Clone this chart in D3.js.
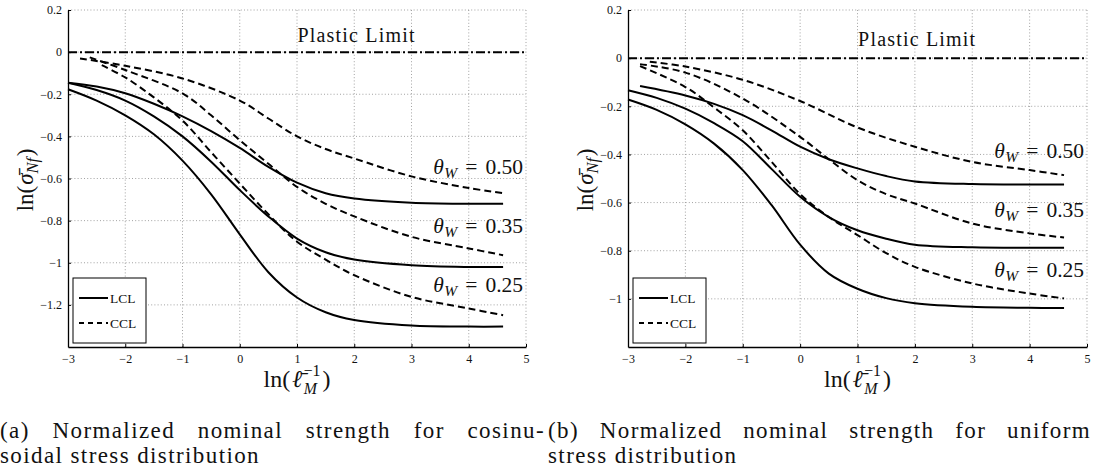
<!doctype html>
<html lang="en">
<head>
<meta charset="utf-8">
<title>Normalized nominal strength</title>
<script src="https://cdnjs.cloudflare.com/ajax/libs/d3/7.8.5/d3.min.js"></script>
<style>
  body { margin: 0; background: #fff; }
  svg text { font-family: "Liberation Serif", "Times New Roman", serif; fill: #111; }
</style>
</head>
<body>
<svg id="svg" width="1093" height="470"></svg>
<script>
// ---- data ----
var xTicks = [-3, -2, -1, 0, 1, 2, 3, 4, 5];
var yTicksA = [0.2, 0, -0.2, -0.4, -0.6, -0.8, -1, -1.2, -1.4];
var yTicksB = [0.2, 0, -0.2, -0.4, -0.6, -0.8, -1, -1.2];
var thetaLabels = ['0.50', '0.35', '0.25'];
var legendLabels = ['LCL', 'CCL'];

// (a) cosinusoidal stress distribution
var lclA50 = [[-3,-0.145],[-2.5,-0.163],[-2,-0.195],[-1.5,-0.245],[-1,-0.305],[-0.5,-0.375],[0,-0.455],[0.5,-0.545],[1,-0.62],[1.5,-0.67],[2,-0.695],[3,-0.715],[4,-0.72],[4.6,-0.72]];
var lclA35 = [[-3,-0.145],[-2.5,-0.18],[-2,-0.23],[-1.5,-0.305],[-1,-0.40],[-0.5,-0.52],[0,-0.655],[0.5,-0.78],[1,-0.885],[1.5,-0.95],[2,-0.985],[3,-1.012],[4,-1.02],[4.6,-1.02]];
var lclA25 = [[-3,-0.176],[-2.5,-0.23],[-2,-0.30],[-1.5,-0.39],[-1,-0.515],[-0.5,-0.675],[0,-0.865],[0.5,-1.045],[1,-1.165],[1.5,-1.235],[2,-1.272],[3,-1.298],[4,-1.303],[4.6,-1.303]];
var cclA50 = [[-2.79,-0.03],[-2,-0.065],[-1,-0.125],[0,-0.23],[0.5,-0.315],[1,-0.40],[1.5,-0.46],[2,-0.505],[3,-0.59],[4,-0.645],[4.6,-0.67]];
var cclA35 = [[-2.62,-0.025],[-2,-0.085],[-1,-0.196],[-0.5,-0.30],[0,-0.418],[0.5,-0.53],[1,-0.64],[1.5,-0.72],[2,-0.78],[3,-0.877],[4,-0.932],[4.6,-0.964]];
var cclA25 = [[-2.41,-0.062],[-2,-0.12],[-1.5,-0.215],[-1,-0.325],[-0.5,-0.475],[0,-0.624],[0.5,-0.77],[1,-0.90],[1.5,-0.985],[2,-1.059],[3,-1.162],[4,-1.217],[4.6,-1.249]];

// (b) uniform stress distribution
var lclB50 = [[-2.79,-0.116],[-2,-0.155],[-1.5,-0.19],[-1,-0.237],[-0.5,-0.30],[0,-0.368],[0.5,-0.42],[1,-0.458],[1.5,-0.49],[2,-0.512],[3,-0.523],[4,-0.525],[4.6,-0.525]];
var lclB35 = [[-3,-0.133],[-2.5,-0.165],[-2,-0.21],[-1.5,-0.27],[-1,-0.345],[-0.5,-0.46],[0,-0.576],[0.5,-0.66],[1,-0.715],[1.5,-0.75],[2,-0.775],[3,-0.786],[4,-0.788],[4.6,-0.788]];
var lclB25 = [[-3,-0.172],[-2.5,-0.215],[-2,-0.275],[-1.5,-0.355],[-1,-0.465],[-0.5,-0.61],[0,-0.775],[0.5,-0.895],[1,-0.958],[1.5,-0.997],[2,-1.018],[3,-1.033],[4,-1.037],[4.6,-1.038]];
var cclB50 = [[-2.62,-0.015],[-2,-0.035],[-1,-0.09],[0,-0.178],[1,-0.288],[2,-0.368],[3,-0.431],[4,-0.465],[4.6,-0.486]];
var cclB35 = [[-2.79,-0.025],[-2,-0.06],[-1,-0.168],[0,-0.327],[0.5,-0.42],[1,-0.507],[1.5,-0.565],[2,-0.604],[3,-0.687],[4,-0.728],[4.6,-0.745]];
var cclB25 = [[-2.79,-0.033],[-2,-0.12],[-1.5,-0.205],[-1,-0.30],[-0.5,-0.43],[0,-0.565],[0.5,-0.66],[1,-0.735],[1.5,-0.81],[2,-0.867],[3,-0.936],[4,-0.978],[4.6,-0.998]];

var svg = d3.select('#svg');
svg.append('rect').attr('width', 1093).attr('height', 470).attr('fill', '#fff');

// lays out a little math expression piece by piece, returns its width
function mathText(g, parts, size) {
	var x = 0, lastX = 0;
	parts.forEach(function(p) {
		var start = p.stack ? lastX : x + (p.pad || 0);
		var t = g.append('text')
			.attr('x', start)
			.attr('y', p.dy || 0)
			.attr('font-size', size * (p.s || 1))
			.attr('font-style', p.it ? 'italic' : 'normal')
			.text(p.t);
		var w = t.node().getComputedTextLength();
		if (p.stack) {
			x = Math.max(x, start + w);
		} else {
			lastX = start;
			x = start + w;
		}
	});
	return x;
}

function panel(opt) {
	var x = d3.scaleLinear().domain([-3, 5]).range([opt.left, opt.right]);
	var y = d3.scaleLinear().domain(opt.yDomain).range([347, 10]);
	var g = svg.append('g');

	// dotted grid
	g.selectAll('.gx').data(xTicks.slice(1)).enter().append('line')
		.attr('x1', function(d) { return x(d); }).attr('x2', function(d) { return x(d); })
		.attr('y1', y.range()[0]).attr('y2', y.range()[1])
		.attr('stroke', '#8a8a8a').attr('stroke-width', 0.8).attr('stroke-dasharray', '1,2.2');
	g.selectAll('.gy').data(opt.yTicks.slice(0, -1)).enter().append('line')
		.attr('y1', function(d) { return y(d); }).attr('y2', function(d) { return y(d); })
		.attr('x1', x.range()[0]).attr('x2', x.range()[1])
		.attr('stroke', '#8a8a8a').attr('stroke-width', 0.8).attr('stroke-dasharray', '1,2.2');

	// plastic limit
	g.append('line')
		.attr('x1', x(-3)).attr('x2', x(5)).attr('y1', y(0)).attr('y2', y(0))
		.attr('stroke', '#000').attr('stroke-width', 2).attr('stroke-dasharray', '9,3,2,3');
	g.append('text')
		.attr('x', x(opt.plasticX)).attr('y', y(0) - opt.plasticDy)
		.attr('text-anchor', 'middle').attr('font-size', 20)
		.attr('textLength', 117).attr('lengthAdjust', 'spacing')
		.text('Plastic Limit');

	var line = d3.line()
		.x(function(d) { return x(d[0]); })
		.y(function(d) { return y(d[1]); })
		.curve(d3.curveCatmullRom.alpha(0.5));

	opt.lcl.forEach(function(s) {
		g.append('path').attr('d', line(s)).attr('fill', 'none')
			.attr('stroke', '#000').attr('stroke-width', 2);
	});
	opt.ccl.forEach(function(s) {
		g.append('path').attr('d', line(s)).attr('fill', 'none')
			.attr('stroke', '#000').attr('stroke-width', 2).attr('stroke-dasharray', '7,4');
	});

	// axes
	var fmt = function(d) { return d3.format('')(d); };
	var ax = g.append('g').attr('transform', 'translate(0,' + y.range()[0] + ')')
		.call(d3.axisBottom(x).tickValues(xTicks).tickFormat(fmt).tickSizeInner(-3).tickSizeOuter(0).tickPadding(7));
	var ay = g.append('g').attr('transform', 'translate(' + x.range()[0] + ',0)')
		.call(d3.axisLeft(y).tickValues(opt.yTicks.slice(0, -1)).tickFormat(fmt).tickSizeInner(-3).tickSizeOuter(0).tickPadding(6));
	[ax, ay].forEach(function(a) {
		a.attr('font-family', null);
		a.select('.domain').attr('stroke', '#000').attr('stroke-width', 1.3);
		a.selectAll('.tick line').attr('stroke', '#000');
		a.selectAll('.tick text').attr('font-size', 12).attr('fill', '#111');
	});

	// theta labels
	opt.thetaY.forEach(function(v, i) {
		var tg = g.append('g');
		var w = mathText(tg, [
			{ t: '\u03b8', it: true },
			{ t: 'W', it: true, s: 0.72, dy: 4, pad: 0.5 },
			{ t: '=', pad: 8 },
			{ t: thetaLabels[i], pad: 8 }
		], 21.5);
		tg.attr('transform', 'translate(' + (opt.right - 3 - w) + ',' + v + ')');
	});

	// legend
	var lg = g.append('g').attr('transform', 'translate(' + (x.range()[0] + 5) + ',278)');
	lg.append('rect').attr('width', 73).attr('height', 65)
		.attr('fill', '#fff').attr('stroke', '#000').attr('stroke-width', 1);
	legendLabels.forEach(function(l, i) {
		var yy = 20 + i * 25;
		lg.append('line').attr('x1', 6).attr('x2', 35).attr('y1', yy).attr('y2', yy)
			.attr('stroke', '#000').attr('stroke-width', 2)
			.attr('stroke-dasharray', i ? '5,4' : null);
		lg.append('text').attr('x', 37).attr('y', yy + 4.5).attr('font-size', 13.5).text(l);
	});

	// axis titles
	var xl = g.append('g');
	var xw = mathText(xl, [
		{ t: 'ln(' },
		{ t: '\u2113\u0304', it: true, pad: 2 },
		{ t: '\u22121', s: 0.66, dy: -11, pad: 1.5 },
		{ t: 'M', it: true, s: 0.66, dy: 7, stack: true },
		{ t: ')', pad: 2 }
	], 24);
	xl.attr('transform', 'translate(' + ((opt.left + opt.right) / 2 - xw / 2) + ',387)');

	var yl = g.append('g');
	var yw = mathText(yl, [
		{ t: 'ln(' },
		{ t: '\u03c3\u0304', it: true, pad: 1 },
		{ t: 'Nf', it: true, s: 0.72, dy: 5 },
		{ t: ')', pad: 1.5 }
	], 23);
	yl.attr('transform', 'translate(' + (opt.left - 35) + ',' + (180 + yw / 2) + ') rotate(-90)');
}

panel({
	left: 68, right: 526, yDomain: [-1.4, 0.2], yTicks: yTicksA,
	lcl: [lclA50, lclA35, lclA25], ccl: [cclA50, cclA35, cclA25],
	plasticX: 2.03, plasticDy: 10, thetaY: [174, 233, 292]
});
panel({
	left: 628, right: 1087, yDomain: [-1.2, 0.2], yTicks: yTicksB,
	lcl: [lclB50, lclB35, lclB25], ccl: [cclB50, cclB35, cclB25],
	plasticX: 2.03, plasticDy: 12, thetaY: [158, 217, 277]
});

// captions, justified like the paper's two-column text
function caption(x0, yy, str, width) {
	var t = svg.append('text').attr('x', x0).attr('y', yy)
		.attr('font-size', 23).attr('letter-spacing', 1.4).text(str);
	if (width) {
		var nat = t.node().getComputedTextLength();
		var gaps = str.split(' ').length - 1;
		t.attr('word-spacing', Math.max(0, (width - nat) / gaps));
	}
}
caption(0, 438, '(a) Normalized nominal strength for cosinu-', 545);
caption(0, 463, 'soidal stress distribution');
caption(548, 438, '(b) Normalized nominal strength for uniform', 543);
caption(548, 463, 'stress distribution');
</script>
</body>
</html>
